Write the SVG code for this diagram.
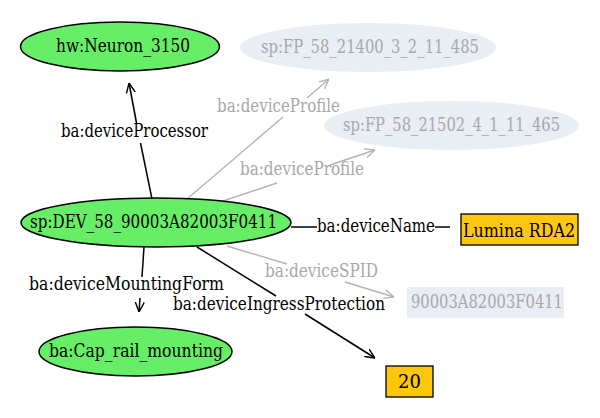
<svg xmlns="http://www.w3.org/2000/svg" width="600" height="418" viewBox="0 0 600 418">
<style>
text{font-size:18px;font-family:"DejaVu Serif",serif}
.g{fill:#66ee66;stroke:#000;stroke-width:1.5}
.f{fill:#e9edf4;stroke:none}
.y{fill:#fdc70f;stroke:#000;stroke-width:1.3}
.tb{fill:#000}
.tg{fill:#a8a8a8}
.eb{stroke:#000;stroke-width:1.5;fill:none}
.eg{stroke:#b4b4b4;stroke-width:1.4;fill:none}
</style>
<defs>
<marker id="ab" viewBox="0 0 10 10" refX="10" refY="5" markerWidth="10" markerHeight="10" markerUnits="userSpaceOnUse" orient="auto"><path d="M0,0.5 L10,5 L0,9.5" fill="none" stroke="#000" stroke-width="1.4"/></marker>
<marker id="ag" viewBox="0 0 10 10" refX="10" refY="5" markerWidth="10" markerHeight="10" markerUnits="userSpaceOnUse" orient="auto"><path d="M0,0.5 L10,5 L0,9.5" fill="none" stroke="#b4b4b4" stroke-width="1.4"/></marker>
</defs>
<rect width="600" height="418" fill="#fff"/>
<g id="connectors">
<line class="eb" x1="152" y1="199" x2="140.5" y2="143"/>
<line class="eb" x1="136.5" y1="123" x2="129" y2="83" marker-end="url(#ab)"/>
<line class="eg" x1="187" y1="199" x2="283" y2="117"/>
<line class="eg" x1="307" y1="98" x2="329" y2="79" marker-end="url(#ag)"/>
<line class="eg" x1="223" y1="201" x2="277" y2="183"/>
<line class="eg" x1="330" y1="165" x2="375" y2="150" marker-end="url(#ag)"/>
<line class="eb" x1="291" y1="227" x2="317" y2="227"/>
<line class="eb" x1="435" y1="227" x2="450" y2="227"/>
<line class="eg" x1="227" y1="246" x2="287" y2="264"/>
<line class="eg" x1="345" y1="282" x2="394" y2="297" marker-end="url(#ag)"/>
<line class="eb" x1="197" y1="247" x2="276" y2="296"/>
<line class="eb" x1="305" y1="314" x2="375" y2="358" marker-end="url(#ab)"/>
<line class="eb" x1="144" y1="247" x2="142" y2="277"/>
<line class="eb" x1="140" y1="298" x2="139" y2="312" marker-end="url(#ab)"/>
<text class="tb" x="61" y="137" textLength="147" lengthAdjust="spacingAndGlyphs">ba:deviceProcessor</text>
<text class="tg" x="217" y="112" textLength="123" lengthAdjust="spacingAndGlyphs">ba:deviceProfile</text>
<text class="tg" x="240" y="175" textLength="124" lengthAdjust="spacingAndGlyphs">ba:deviceProfile</text>
<text class="tb" x="317" y="232" textLength="118" lengthAdjust="spacingAndGlyphs">ba:deviceName</text>
<text class="tg" x="265" y="277" textLength="113" lengthAdjust="spacingAndGlyphs">ba:deviceSPID</text>
<text class="tb" x="173" y="310" textLength="212" lengthAdjust="spacingAndGlyphs">ba:deviceIngressProtection</text>
<text class="tb" x="29" y="290" textLength="195" lengthAdjust="spacingAndGlyphs">ba:deviceMountingForm</text>
</g>
<g id="neuron">
<ellipse class="g" cx="120" cy="46.5" rx="99.5" ry="24.5"/>
<text class="tb" x="56" y="52" textLength="134" lengthAdjust="spacingAndGlyphs">hw:Neuron_3150</text>
</g>
<g id="fp1">
<ellipse class="f" cx="368" cy="47.5" rx="128" ry="24.5"/>
<text class="tg" x="261" y="53" textLength="218" lengthAdjust="spacingAndGlyphs">sp:FP_58_21400_3_2_11_485</text>
</g>
<g id="fp2">
<ellipse class="f" cx="451.5" cy="125.5" rx="127.5" ry="24.5"/>
<text class="tg" x="343" y="131" textLength="217" lengthAdjust="spacingAndGlyphs">sp:FP_58_21502_4_1_11_465</text>
</g>
<g id="dev">
<ellipse class="g" cx="156" cy="222.5" rx="135" ry="24.5"/>
<text class="tb" x="30" y="228" textLength="247" lengthAdjust="spacingAndGlyphs">sp:DEV_58_90003A82003F0411</text>
</g>
<g id="lumina">
<rect class="y" x="461" y="214" width="117" height="31"/>
<text class="tb" x="463" y="237" textLength="112" lengthAdjust="spacingAndGlyphs">Lumina RDA2</text>
</g>
<g id="spid">
<rect class="f" x="407" y="287" width="157" height="31"/>
<text class="tg" x="411" y="308" textLength="152" lengthAdjust="spacingAndGlyphs">90003A82003F0411</text>
</g>
<g id="ip20">
<rect class="y" x="386" y="366" width="47" height="31"/>
<text class="tb" x="409.5" y="388" text-anchor="middle">20</text>
</g>
<g id="cap">
<ellipse class="g" cx="135.5" cy="351.5" rx="96.5" ry="24.5"/>
<text class="tb" x="49" y="357" textLength="174" lengthAdjust="spacingAndGlyphs">ba:Cap_rail_mounting</text>
</g>
</svg>
